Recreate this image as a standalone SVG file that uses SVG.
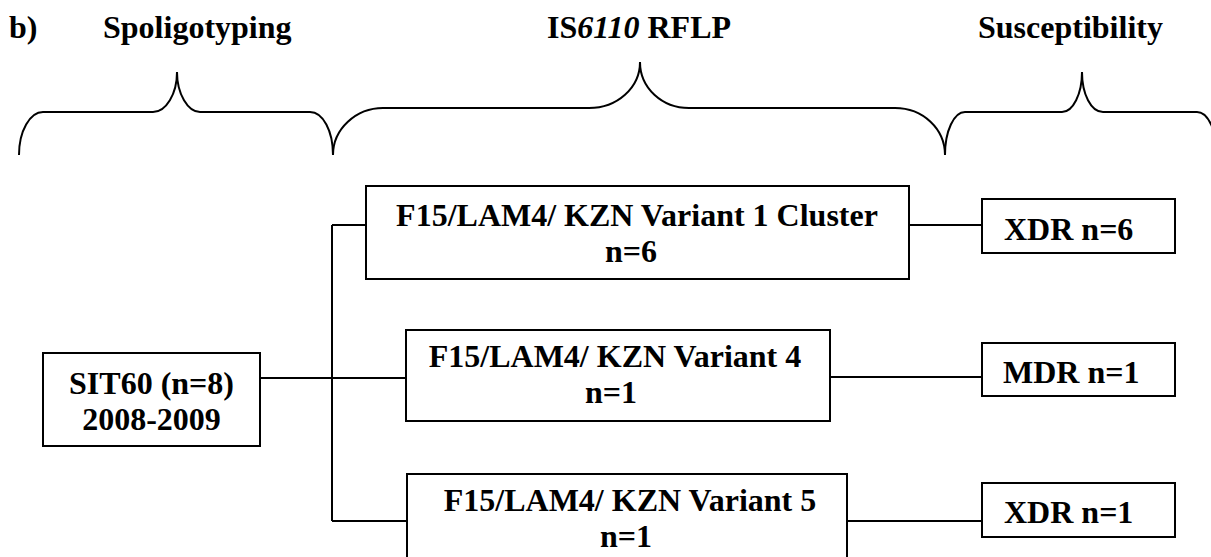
<svg xmlns="http://www.w3.org/2000/svg" width="1211" height="557" viewBox="0 0 1211 557">
  <style>
    text { font-family: "Liberation Serif", "Times New Roman", serif; font-weight: bold; font-size: 32px; fill: #000; }
    .mid { text-anchor: middle; }
    .box { fill: #fff; stroke: #000; stroke-width: 2; }
    .line { fill: none; stroke: #000; stroke-width: 2; }
    .brace { fill: none; stroke: #000; stroke-width: 2; }
  </style>
  <rect width="1211" height="557" fill="#fff"/>

  <!-- column headings -->
  <g id="headings">
    <text x="9" y="38">b)</text>
    <text x="103" y="38">Spoligotyping</text>
    <text x="547" y="38">IS<tspan font-style="italic">6110</tspan> RFLP</text>
    <text x="978" y="38">Susceptibility</text>
  </g>

  <!-- curly braces under the headings -->
  <g id="braces">
    <path class="brace" d="M19,155 C19,131 30,112 43,112 L153,112 C166,112 177,94 177,72 C177,94 188,112 200,112 L310,112 C323,112 333,131 333,155"/>
    <path class="brace" d="M333,155 C333,129 356,108 383,108 L589,108 C617,108 640,88 640,62 C640,88 662,108 689,108 L895,108 C923,108 945,129 945,155"/>
    <path class="brace" d="M945,155 C945,131 954,112 965,112 L1062,112 C1073,112 1082,94 1082,72 C1082,94 1091,112 1103,112 L1197,112 C1208,112 1217,131 1217,155"/>
  </g>

  <!-- connectors -->
  <g id="connectors">
    <path class="line" d="M260,378 H406"/>
    <path class="line" d="M332,225 V521"/>
    <path class="line" d="M332,225 H366"/>
    <path class="line" d="M332,521 H407"/>
    <path class="line" d="M909,225 H982"/>
    <path class="line" d="M830,377 H982"/>
    <path class="line" d="M847,521 H982"/>
  </g>

  <g id="sit60">
    <rect class="box" x="43" y="353" width="217" height="93"/>
    <text class="mid" x="151.5" y="394">SIT60 (n=8)</text>
    <text class="mid" x="151.5" y="430">2008-2009</text>
  </g>

  <g id="variant1">
    <rect class="box" x="366" y="186" width="543" height="93"/>
    <text class="mid" x="637" y="226">F15/LAM4/ KZN Variant 1 Cluster</text>
    <text class="mid" x="631" y="262">n=6</text>
  </g>

  <g id="variant4">
    <rect class="box" x="406" y="330" width="424" height="91"/>
    <text class="mid" x="615" y="367">F15/LAM4/ KZN Variant 4</text>
    <text class="mid" x="611" y="403">n=1</text>
  </g>

  <g id="variant5">
    <rect class="box" x="407" y="474" width="440" height="90"/>
    <text class="mid" x="630" y="511">F15/LAM4/ KZN Variant 5</text>
    <text class="mid" x="626" y="547">n=1</text>
  </g>

  <g id="xdr6">
    <rect class="box" x="982" y="199" width="193" height="54"/>
    <text x="1004" y="240">XDR n=6</text>
  </g>

  <g id="mdr1">
    <rect class="box" x="982" y="343" width="193" height="53"/>
    <text x="1003" y="383">MDR n=1</text>
  </g>

  <g id="xdr1">
    <rect class="box" x="982" y="483" width="193" height="54"/>
    <text x="1004" y="523">XDR n=1</text>
  </g>
</svg>
